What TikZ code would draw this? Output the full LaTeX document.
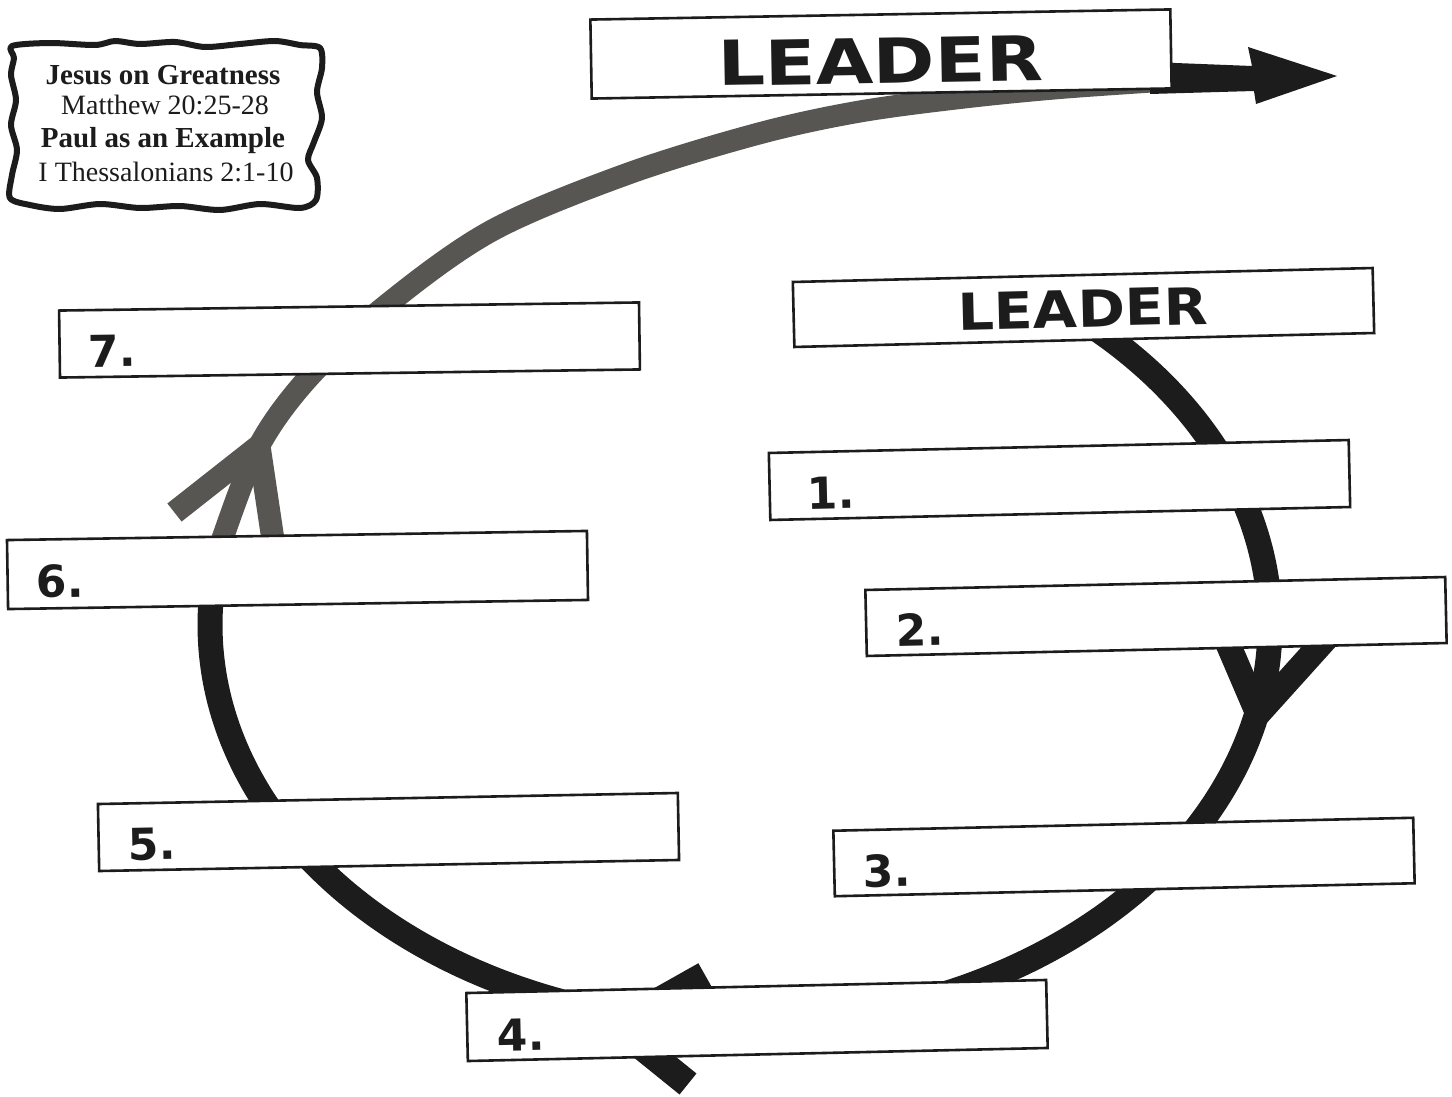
\documentclass[tikz,border=0pt]{standalone}
\usepackage{fontspec}
\setmainfont{Liberation Serif}
\newfontfamily\lblfont{DejaVu Sans}
\usetikzlibrary{calc}
\definecolor{ink}{RGB}{28,28,28}
\definecolor{grayarc}{RGB}{88,86,82}
\begin{document}
\begin{tikzpicture}[x=1pt,y=-1pt,
  box/.style={draw=ink, line width=2.6pt, fill=white, inner sep=0pt, minimum width=580pt, minimum height=67pt},
  num/.style={font=\lblfont\bfseries\fontsize{44}{44}\selectfont, anchor=base west, inner sep=0pt, text=ink},
  infotxt/.style={anchor=base, inner sep=0pt, text=ink},
  blackarc/.style={draw=ink, line width=25pt},
  grayarcs/.style={draw=grayarc, line width=22pt},
  barb/.style={line join=miter, line cap=butt}]
\useasboundingbox (0,0) rectangle (1452,1097);
\fill[white] (0,0) rectangle (1452,1097);

% black cycle (elliptic)
\draw[blackarc] plot[domain=-52:190, samples=150, smooth] ({740+530*cos(\x)},{625+400*sin(\x)});
% gray arc to leader
\draw[grayarcs] plot[smooth, tension=0.55] coordinates {(215,569) (223,537) (259,446) (310,376) (389,303) (493,230) (627,174) (757,134) (857,112) (960,98) (1060,88) (1175,80)};

% arrow barbs
\draw[ink, line width=25pt, barb] (1222,630) -- (1258,714) -- (1340,623);
\draw[grayarc, line width=23pt, barb] (174.5,512.5) -- (259,446) -- (276,560);
\draw[ink, line width=27pt, barb] (705,975) -- (615.5,1025.4) -- (688,1084);

% top arrow
\fill[ink] (1150,62) -- (1252,66) -- (1248,47) -- (1337,76) -- (1256,104) -- (1254,91) -- (1150,94) -- cycle;

% boxes
\node[box, minimum height=79pt, rotate=1.0] (lead1) at (881,54) {};
\node[box, minimum height=65pt, rotate=1.38] (lead2) at (1083.5,307.5) {};
\node[box, rotate=0.8] (b7) at (349.5,340) {};
\node[box, rotate=1.28] (b1) at (1059.5,480) {};
\node[box, minimum height=69pt, rotate=0.9] (b6) at (297.5,570) {};
\node[box, minimum height=66pt, rotate=1.28] (b2) at (1156,616.5) {};
\node[box, rotate=1.09] (b5) at (388.5,832) {};
\node[box, minimum height=65.5pt, rotate=1.28] (b3) at (1124,857) {};
\node[box, minimum height=68pt, rotate=1.29] (b4) at (757,1020.5) {};

% texts
\node[anchor=base, inner sep=0pt, text=ink, font=\lblfont\bfseries\fontsize{62}{62}\selectfont, rotate=1.0] (t0) at ([shift={(0,29)}]lead1.center) {\scalebox{1.2}[1]{LEADER}};
\node[anchor=base, inner sep=0pt, text=ink, font=\lblfont\bfseries\fontsize{51}{51}\selectfont, rotate=1.38] (t00) at ([shift={(0,19.5)}]lead2.center) {\scalebox{1.12}[1]{LEADER}};
\node[num, rotate=0.8] (t7) at ([shift={(30,23)}]b7.west) {7.};
\node[num, rotate=1.28] (t1) at ([shift={(39,23)}]b1.west) {1.};
\node[num, rotate=0.9] (t6) at ([shift={(30,23)}]b6.west) {6.};
\node[num, rotate=1.28] (t2) at ([shift={(32,23)}]b2.west) {2.};
\node[num, rotate=1.09] (t5) at ([shift={(31,23)}]b5.west) {5.};
\node[num, rotate=1.28] (t3) at ([shift={(31,24)}]b3.west) {3.};
\node[num, rotate=1.29] (t4) at ([shift={(32,24)}]b4.west) {4.};

% info frame
\draw[ink, line width=6pt, fill=white, line join=round] plot[smooth cycle, tension=0.5] coordinates {(12,46) (50,43) (95,45) (115,41) (140,44) (175,42) (205,47) (240,44) (275,41) (300,45) (320,48) (322,68) (317,92) (322,118) (314,142) (308,160) (317,178) (316,200) (300,208) (260,204) (220,210) (180,206) (140,208) (100,204) (60,209) (30,205) (10,198) (12,175) (17,150) (11,125) (16,100) (11,75) (14,58)};
\node[infotxt, font=\bfseries\fontsize{29}{29}\selectfont] (i1) at (163,85) {Jesus on Greatness};
\node[infotxt, font=\fontsize{28}{28}\selectfont] (i2) at (165,115) {Matthew 20:25-28};
\node[infotxt, font=\bfseries\fontsize{29}{29}\selectfont] (i3) at (163,148) {Paul as an Example};
\node[infotxt, font=\fontsize{28}{28}\selectfont] (i4) at (166,182) {I Thessalonians 2:1-10};
\end{tikzpicture}
\end{document}
